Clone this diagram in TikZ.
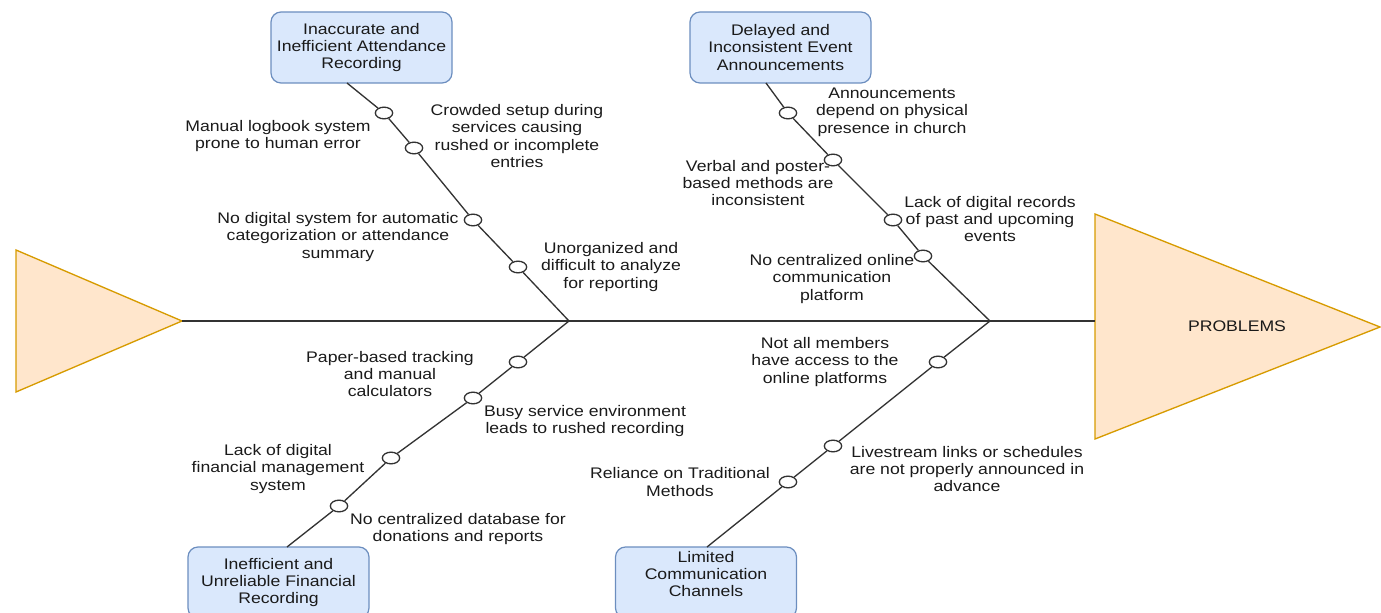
\documentclass[tikz,border=0pt]{standalone}
\usepackage{fontspec}
\setmainfont{Liberation Sans}[FakeStretch=1.15]
\usetikzlibrary{shapes.geometric}
\definecolor{boxfill}{HTML}{DAE8FC}
\definecolor{boxline}{HTML}{6C8EBF}
\definecolor{trifill}{HTML}{FFE6CC}
\definecolor{triline}{HTML}{D79B00}
\definecolor{ink}{HTML}{1A1A1A}
\definecolor{wirecol}{HTML}{333333}
\newcommand\lblfont{\fontsize{11.5}{13}\selectfont}
\begin{document}
\begin{tikzpicture}[x=0.75pt,y=-0.75pt,
 cat/.style={draw=boxline,fill=boxfill,rounded corners=7.5pt,minimum width=135.75pt,minimum height=53.25pt,align=center,inner sep=0pt,line width=0.9pt,text=ink,font=\lblfont},
 lbl/.style={align=center,inner sep=0pt,text=ink,font=\lblfont},
 dot/.style={ellipse,draw=wirecol,fill=white,line width=1pt,minimum width=13pt,minimum height=8.75pt,inner sep=0pt},
 wire/.style={draw=wirecol,line width=1pt},
 tri/.style={draw=triline,fill=trifill,line width=1pt}]
\useasboundingbox (0,0) rectangle (1381,613);

% triangles
\coordinate (lt1) at (16,250);
\coordinate (lt2) at (16,392);
\coordinate (ltapex) at (182,321);
\coordinate (rt1) at (1095,214);
\coordinate (rt2) at (1095,439);
\coordinate (rtapex) at (1380,327);
\coordinate (rtin) at (1095,321);
\path[tri] (lt1) -- (ltapex) -- (lt2) -- cycle;
\path[tri] (rt1) -- (rtapex) -- (rt2) -- cycle;
\node[lbl] (prob) at (1237,326) {PROBLEMS};

% spine
\coordinate (j1) at (569,321);
\coordinate (j2) at (990,321);
\draw[wire] (ltapex) -- (rtin);

% category boxes
\node[cat] (b1) at (361.5,47.5) {Inaccurate and\\Inefficient Attendance\\Recording};
\node[cat] (b2) at (780.5,47.5) {Delayed and\\Inconsistent Event\\Announcements};
\node[cat] (b3) at (278.5,582.5) {Inefficient and\\Unreliable Financial\\Recording};
\node[cat] (b4) at (706,582.5) {};
\node[lbl] (b4t) at (706,574) {Limited\\Communication\\Channels};

\coordinate (b1p) at (347,83);
\coordinate (b2p) at (766,83);
\coordinate (b3p) at (287,547);
\coordinate (b4p) at (707,547);

% dots
\node[dot] (c11) at (384,113) {};
\node[dot] (c12) at (414,148) {};
\node[dot] (c13) at (473,220) {};
\node[dot] (c14) at (518,267) {};

\node[dot] (c21) at (788,113) {};
\node[dot] (c22) at (833,160) {};
\node[dot] (c23) at (893,220) {};
\node[dot] (c24) at (923,256) {};

\node[dot] (c31) at (518,362) {};
\node[dot] (c32) at (473,398) {};
\node[dot] (c33) at (391,458) {};
\node[dot] (c34) at (339,506) {};

\node[dot] (c41) at (938,362) {};
\node[dot] (c42) at (833,446) {};
\node[dot] (c43) at (788,482) {};

% branches
\draw[wire] (b1p) -- (c11) -- (c12) -- (c13) -- (c14) -- (j1);
\draw[wire] (b2p) -- (c21) -- (c22) -- (c23) -- (c24) -- (j2);
\draw[wire] (j1) -- (c31) -- (c32) -- (c33) -- (c34) -- (b3p);
\draw[wire] (j2) -- (c41) -- (c42) -- (c43) -- (b4p);

% labels branch 1
\node[lbl] (l11) at (278,136) {Manual logbook system\\prone to human error};
\node[lbl] (l12) at (517,136) {Crowded setup during\\services causing\\rushed or incomplete\\entries};
\node[lbl] (l13) at (338,237) {No digital system for automatic\\categorization or attendance\\summary};
\node[lbl] (l14) at (611,267) {Unorganized and\\difficult to analyze\\for reporting};

% labels branch 2
\node[lbl] (l21) at (892,112) {Announcements\\depend on physical\\presence in church};
\node[lbl] (l22) at (758,183) {Verbal and poster-\\based methods are\\inconsistent};
\node[lbl] (l23) at (990,219) {Lack of digital records\\of past and upcoming\\events};
\node[lbl] (l24) at (832,279) {No centralized online\\communication\\platform};

% labels branch 3
\node[lbl] (l31) at (390,374) {Paper-based tracking\\and manual\\calculators};
\node[lbl] (l32) at (585,421) {Busy service environment\\leads to rushed recording};
\node[lbl] (l33) at (278,469) {Lack of digital\\financial management\\system};
\node[lbl] (l34) at (458,529) {No centralized database for\\donations and reports};

% labels branch 4
\node[lbl] (l41) at (825,362) {Not all members\\have access to the\\online platforms};
\node[lbl] (l42) at (967,469) {Livestream links or schedules\\are not properly announced in\\advance};
\node[lbl] (l43) at (680,482) {Reliance on Traditional\\Methods};
\end{tikzpicture}
\end{document}
